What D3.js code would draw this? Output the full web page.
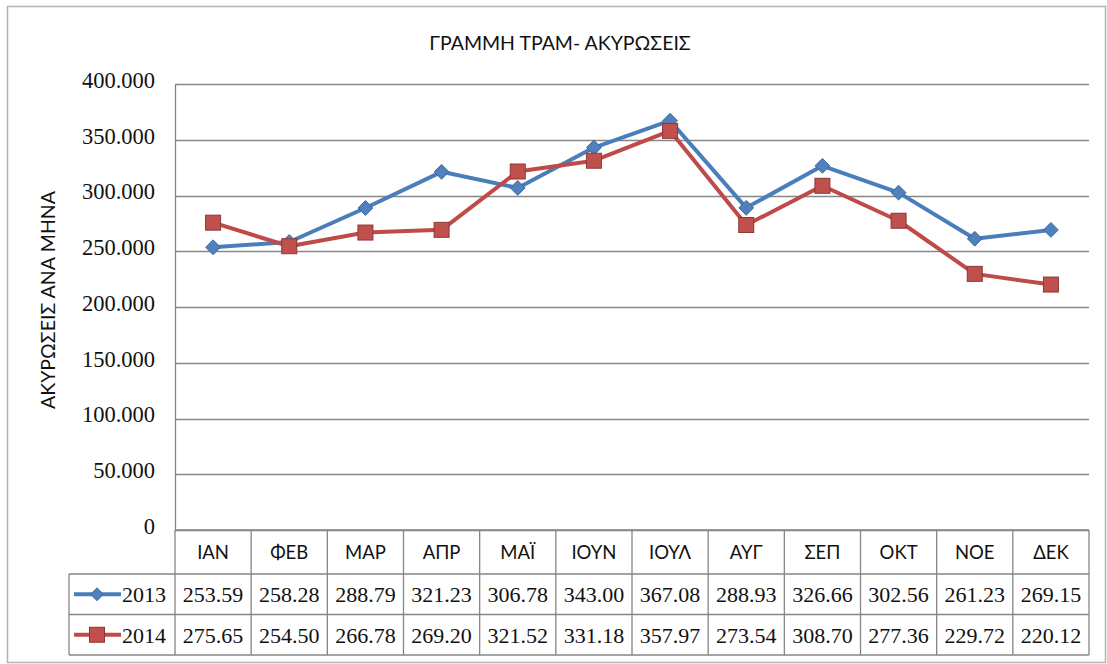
<!DOCTYPE html>
<html><head><meta charset="utf-8">
<script src="https://cdn.jsdelivr.net/npm/d3@7"></script>
<style>body{margin:0;background:#fff}svg{display:block}</style>
</head><body>
<svg id="c" width="1107" height="664"></svg>
<script>
const title = "ΓΡΑΜΜΗ ΤΡΑΜ- ΑΚΥΡΩΣΕΙΣ";
const yTitle = "ΑΚΥΡΩΣΕΙΣ ΑΝΑ ΜΗΝΑ";
const months = ["ΙΑΝ","ΦΕΒ","ΜΑΡ","ΑΠΡ","ΜΑΪ","ΙΟΥΝ","ΙΟΥΛ","ΑΥΓ","ΣΕΠ","ΟΚΤ","ΝΟΕ","ΔΕΚ"];
const seriesNames = ["2013","2014"];
const values2013 = [253.59,258.28,288.79,321.23,306.78,343.00,367.08,288.93,326.66,302.56,261.23,269.15];
const values2014 = [275.65,254.50,266.78,269.20,321.52,331.18,357.97,273.54,308.70,277.36,229.72,220.12];
const yTicks = [0,50,100,150,200,250,300,350,400];
const yTickLabels = ["0","50.000","100.000","150.000","200.000","250.000","300.000","350.000","400.000"];

const svg = d3.select("#c");
const L = 175, R = 1089, T = 84, B = 530;
const rowH1 = 44, rowH = 40.5, tableLeft = 69;
const x = d3.scaleBand().domain(months).range([L, R]).padding(0);
const y = d3.scaleLinear().domain([0, 400]).range([B, T]);
const sans = "Lato, 'Open Sans', sans-serif";
const serif = "'Liberation Serif', serif";
const ink = "#111";

// outer border
svg.append("rect").attr("x",7.5).attr("y",6.5).attr("width",1098).attr("height",656)
  .attr("fill","#fff").attr("stroke","#b3b3b3").attr("stroke-width",1.5);

// title
svg.append("text").attr("x",560).attr("y",50).attr("text-anchor","middle")
  .attr("font-family",sans).attr("font-size",19.5).attr("fill",ink)
  .text(title);

// gridlines
const grid = svg.append("g");
grid.selectAll("line").data(yTicks).join("line")
  .attr("x1",L).attr("x2",R).attr("y1",d=>Math.round(y(d))+0.5).attr("y2",d=>Math.round(y(d))+0.5)
  .attr("stroke","#868686").attr("stroke-width",1.3);

// y axis
const yAxis = d3.axisLeft(y).tickValues(yTicks).tickFormat((d,i)=>yTickLabels[i]).tickSize(0).tickPadding(20);
const ya = svg.append("g").attr("transform",`translate(${L},0)`).call(yAxis);
ya.select(".domain").attr("stroke","#868686").attr("stroke-width",1.3);
ya.selectAll("text").attr("font-family",serif).attr("font-size",22.5).attr("fill",ink)
  .attr("dy","0.15em");

// y title
svg.append("text").attr("transform",`translate(55,${300}) rotate(-90)`).attr("text-anchor","middle")
  .attr("font-family",sans).attr("font-size",19.5).attr("fill",ink).text(yTitle);

// table
const tbl = svg.append("g").attr("stroke","#868686").attr("stroke-width",1.3).attr("fill","none");
const yH = B + rowH1, y1 = yH + rowH, y2 = y1 + rowH;
tbl.append("line").attr("x1",L).attr("x2",R).attr("y1",B).attr("y2",B);
tbl.append("line").attr("x1",tableLeft).attr("x2",R).attr("y1",yH).attr("y2",yH);
tbl.append("line").attr("x1",tableLeft).attr("x2",R).attr("y1",y1).attr("y2",y1);
tbl.append("line").attr("x1",tableLeft).attr("x2",R).attr("y1",y2).attr("y2",y2);
tbl.append("line").attr("x1",tableLeft).attr("x2",tableLeft).attr("y1",yH).attr("y2",y2);
const bounds = months.map(m=>x(m)).concat([R]);
tbl.selectAll(".v").data(bounds).join("line").attr("class","v")
  .attr("x1",d=>d).attr("x2",d=>d).attr("y1",B).attr("y2",y2);

svg.append("g").selectAll("text").data(months).join("text")
  .attr("x",d=>x(d)+x.bandwidth()/2).attr("y",B+rowH1/2+7).attr("text-anchor","middle")
  .attr("font-family",sans).attr("font-size",18.5).attr("fill",ink).text(d=>d);

const series = [
  {name:seriesNames[0], vals:values2013, color:"#4a7ebb", fill:"#4f81bd", stroke:"#3d6a9e", shape:"diamond", row:yH},
  {name:seriesNames[1], vals:values2014, color:"#be4b48", fill:"#c0504d", stroke:"#8c3836", shape:"square", row:y1}
];

function marker(g, s, cx, cy, sz) {
  if (s.shape==="diamond") {
    g.append("path").attr("d",d3.symbol(d3.symbolDiamond2, sz*sz*0.62)())
      .attr("transform",`translate(${cx},${cy})`).attr("fill",s.fill).attr("stroke",s.stroke).attr("stroke-width",1);
  } else {
    g.append("rect").attr("x",cx-sz/2).attr("y",cy-sz/2).attr("width",sz).attr("height",sz)
      .attr("fill",s.fill).attr("stroke",s.stroke).attr("stroke-width",1);
  }
}

series.forEach(s=>{
  const cy = s.row + rowH/2;
  // table values
  svg.append("g").selectAll("text").data(s.vals).join("text")
    .attr("x",(d,i)=>x(months[i])+x.bandwidth()/2).attr("y",cy+8).attr("text-anchor","middle")
    .attr("font-family",serif).attr("font-size",22).attr("fill",ink)
    .text(d=>d.toFixed(2));
  // legend key
  const lg = svg.append("g");
  lg.append("line").attr("x1",74).attr("x2",121).attr("y1",cy).attr("y2",cy)
    .attr("stroke",s.color).attr("stroke-width",4);
  marker(lg, s, 97, cy, s.shape==="diamond"?13:15);
  lg.append("text").attr("x",122).attr("y",cy+8).attr("font-family",serif)
    .attr("font-size",22).attr("fill",ink).text(s.name);
});

// lines
const line = d3.line().x((d,i)=>x(months[i])+x.bandwidth()/2).y(d=>y(d));
series.forEach(s=>{
  svg.append("path").datum(s.vals).attr("d",line).attr("fill","none")
    .attr("stroke",s.color).attr("stroke-width",4).attr("stroke-linejoin","round");
});
series.forEach(s=>{
  const g = svg.append("g");
  s.vals.forEach((v,i)=>marker(g, s, x(months[i])+x.bandwidth()/2, y(v), s.shape==="diamond"?15:15));
});
</script>
</body></html>
